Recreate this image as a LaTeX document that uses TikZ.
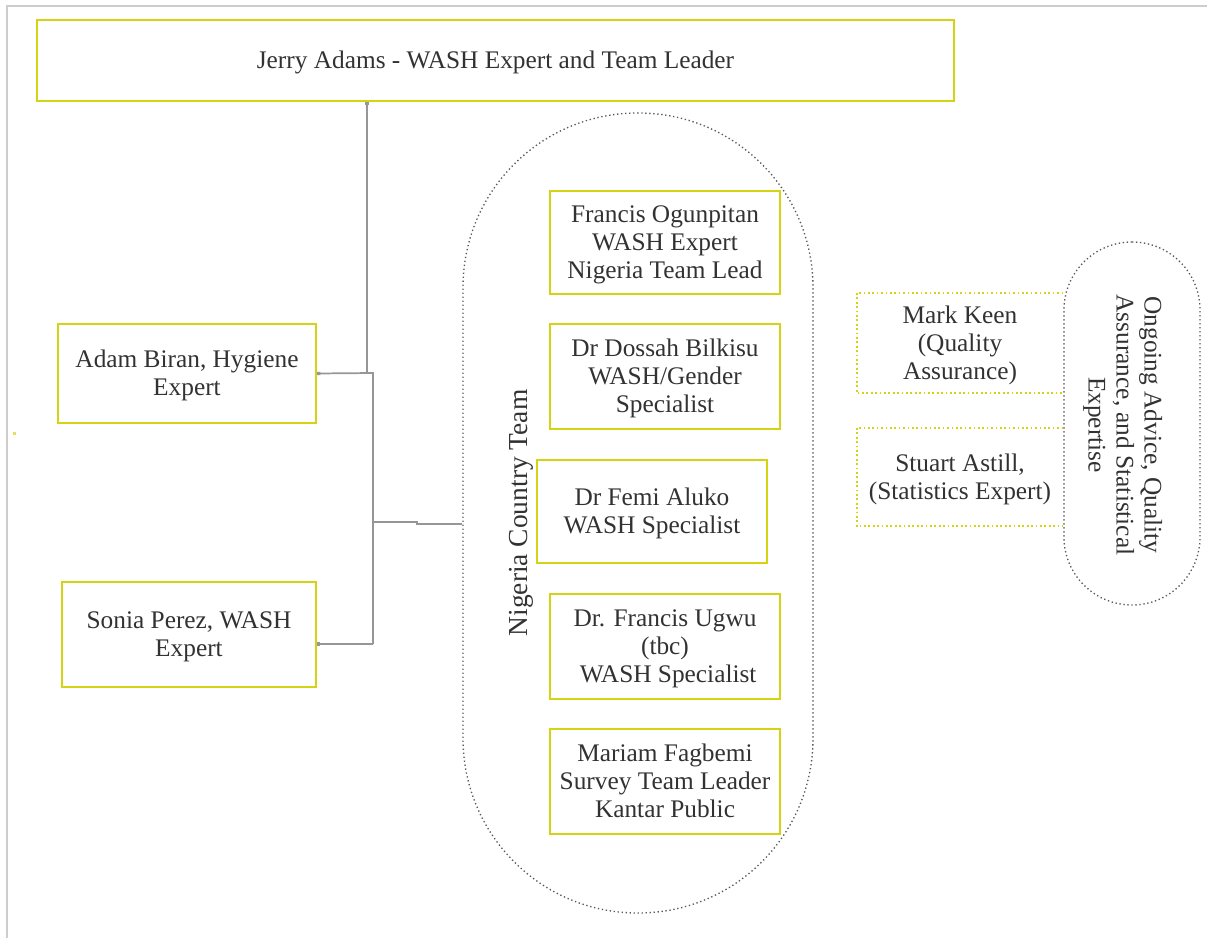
\documentclass[tikz,border=0pt]{standalone}
\usepackage{fontspec}
\setmainfont{Liberation Serif}
\usetikzlibrary{arrows.meta}
\definecolor{ylw}{RGB}{212,212,20}
\definecolor{txt}{RGB}{50,50,50}
\definecolor{conn}{RGB}{150,150,150}
\definecolor{pageline}{RGB}{205,205,205}
\newcommand{\boxfont}{\fontsize{19}{21}\selectfont}
\newcommand{\ls}{\rule[-4.1pt]{0pt}{20.9pt}}
\tikzset{
  person/.style={draw=ylw, line width=1.5pt, align=center, text=txt, font=\boxfont, inner sep=0pt},
  helper/.style={align=center, text=txt, font=\boxfont, inner sep=0pt},
  capsule/.style={draw=black!65, dotted, line width=1pt},
  link/.style={draw=conn, line width=1.3pt},
  dotbox/.style={draw=ylw, dotted, line width=1.3pt},
}
\begin{document}
\begin{tikzpicture}[x=0.75pt,y=-0.75pt]
\useasboundingbox (0,0) rectangle (1207,938);
% page frame
\coordinate (pTL) at (7,6);
\coordinate (pTR) at (1207,6);
\coordinate (pBL) at (7,938);
\draw[pageline, line width=1.5pt] (pTR) -- (pTL) -- (pBL);
% stray mark
\fill[ylw!70] (12.5,432) rectangle (15.5,435);

% capsules
\node[capsule, minimum width=262.5pt, minimum height=600pt, rounded corners=131pt] (ncap) at (638,513) {};
\node[capsule, minimum width=102pt, minimum height=272.25pt, rounded corners=51pt] (rcap) at (1132,423.5) {};

% top leader
\node[person, minimum width=687.75pt, minimum height=60.75pt] (jerry) at (495.5,60.5) {\ls Jerry Adams - WASH Expert and Team Leader};

% left experts
\node[person, minimum width=193.5pt, minimum height=74.25pt] (adam) at (187,373.5) {\ls Adam Biran, Hygiene\\\ls Expert};
\node[person, minimum width=190.5pt, minimum height=78.75pt] (sonia) at (189,634.5) {\ls Sonia Perez, WASH\\\ls Expert};

% Nigeria team
\node[helper, rotate=90, font=\fontsize{20.6}{22}\selectfont] (nct) at (521,513) {Nigeria Country Team};
\node[person, minimum width=172.5pt, minimum height=77.25pt] (francis) at (665,242.5) {\ls Francis Ogunpitan\\\ls WASH Expert\\\ls Nigeria Team Lead};
\node[person, minimum width=172.5pt, minimum height=78.75pt] (dossah) at (665,376.5) {\ls Dr Dossah Bilkisu\\\ls WASH/Gender\\\ls Specialist};
\node[person, minimum width=172.5pt, minimum height=77.25pt] (femi) at (652,511.5) {\ls Dr Femi Aluko\\\ls WASH Specialist};
\node[person, minimum width=172.5pt, minimum height=78.75pt] (ugwu) at (665,646.5) {\ls Dr. Francis Ugwu\\\ls (tbc)\\\ls\ WASH Specialist};
\node[person, minimum width=172.5pt, minimum height=78.75pt] (mariam) at (665,781.5) {\ls Mariam Fagbemi\\\ls Survey Team Leader\\\ls Kantar Public};

% advisers
\node[helper, minimum width=154.5pt, minimum height=75pt] (mark) at (960,343) {\ls Mark Keen\\\ls (Quality\\\ls Assurance)};
\node[helper, minimum width=154.5pt, minimum height=73.5pt] (stuart) at (960,477) {\ls Stuart Astill,\\\ls (Statistics Expert)};
\draw[dotbox] (mark.north east) -- (mark.north west) -- (mark.south west) -- (mark.south east);
\draw[dotbox] (stuart.north east) -- (stuart.north west) -- (stuart.south west) -- (stuart.south east);
\node[helper, rotate=-90] (advice) at (1125,425) {\ls Ongoing Advice, Quality\\\ls Assurance, and Statistical\\\ls Expertise};

% connectors
\coordinate (jdrop) at (367,373);
\coordinate (bustop) at (373,373);
\coordinate (busmid) at (373,522);
\coordinate (busbot) at (373,644);
\coordinate (step1) at (417,522);
\coordinate (step2) at (417,524);
\draw[link, {Square[length=2.5pt,width=2.5pt]}-] (jerry.south -| jdrop) -- (jdrop);
\draw[link, {Square[length=2.5pt,width=2.5pt]}-] (adam.east) -- (bustop) -- (busbot);
\draw[link, -{Square[length=2.5pt,width=2.5pt]}] (busbot) -- (sonia.east |- busbot);
\draw[link] (busmid) -- (step1) -- (step2) -- (ncap.west |- step2);
\end{tikzpicture}
\end{document}
